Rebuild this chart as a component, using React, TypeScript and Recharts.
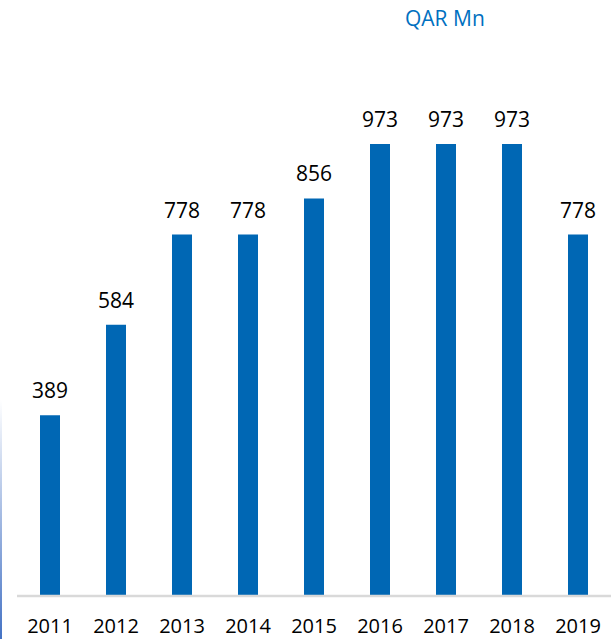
import { Bar, BarChart, LabelList, XAxis, YAxis } from "recharts";

const years = ["2011", "2012", "2013", "2014", "2015", "2016", "2017", "2018", "2019"];
const values = [389, 584, 778, 778, 856, 973, 973, 973, 778];

const data = years.map((year, i) => ({ year, value: values[i] }));

const NUM_FONT = "'Open Sans', sans-serif";

export default function App() {
  return (
    <div style={{ position: "absolute", left: 0, top: 0, width: 614, height: 639, background: "#fff" }}>
      <div
        style={{
          position: "absolute",
          left: 405,
          top: 4,
          color: "#0070c0",
          fontFamily: "'Open Sans', sans-serif",
          fontSize: 21,
        }}
      >
        QAR Mn
      </div>
      <div
        style={{
          position: "absolute",
          left: 0,
          top: 400,
          width: 2,
          height: 239,
          background: "linear-gradient(to bottom, rgba(68,114,196,0), #4472c4)",
        }}
      />
      <BarChart
        width={614}
        height={639}
        data={data}
        margin={{ top: 131.5, right: 3, left: 17, bottom: 0 }}
        barSize={20}
        style={{ position: "absolute", left: 0, top: 0 }}
      >
        <XAxis
          dataKey="year"
          height={43}
          tickLine={false}
          tickSize={0}
          tickMargin={23}
          axisLine={{ stroke: "#d9d9d9", strokeWidth: 2.5 }}
          tick={{ fill: "#000", fontSize: 20, fontFamily: NUM_FONT }}
          interval={0}
        />
        <YAxis hide domain={[0, 1000]} />
        <Bar dataKey="value" fill="#0067b4" isAnimationActive={false}>
          <LabelList
            dataKey="value"
            position="top"
            offset={17}
            fill="#000"
            fontSize={21}
            fontFamily={NUM_FONT}
          />
        </Bar>
      </BarChart>
    </div>
  );
}
